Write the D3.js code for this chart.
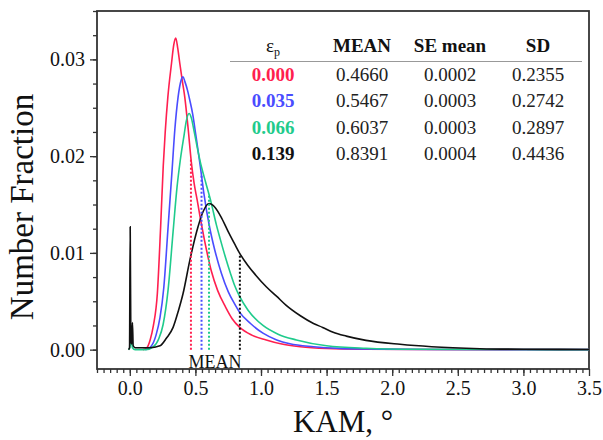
<!DOCTYPE html>
<html>
<head>
<meta charset="utf-8">
<script src="https://cdn.jsdelivr.net/npm/d3@7"></script>
<style>
body { margin: 0; background: #fff; }
</style>
</head>
<body>
<svg id="chart" width="603" height="440"></svg>
<script>
// strain levels and summary statistics (table)
const strains = ["0.000", "0.035", "0.066", "0.139"];
const means = [0.4660, 0.5467, 0.6037, 0.8391];
const seMeans = ["0.0002", "0.0003", "0.0003", "0.0004"];
const sds = ["0.2355", "0.2742", "0.2897", "0.4436"];
const colors = ["#ff1f4f", "#4a4cff", "#1fcb8c", "#111111"];

// KAM distributions, [KAM (deg), number fraction]
const red = [[0.10,0],[0.13,0.0002],[0.155,0.001],[0.18,0.0025],[0.21,0.0058],[0.235,0.0127],[0.255,0.019],[0.27,0.0225],[0.29,0.0261],[0.318,0.0296],[0.335,0.0315],[0.35,0.0322],[0.365,0.0312],[0.381,0.0296],[0.40,0.0278],[0.419,0.0261],[0.445,0.0228],[0.468,0.0195],[0.49,0.0172],[0.513,0.0155],[0.54,0.0134],[0.568,0.0114],[0.622,0.0081],[0.67,0.0061],[0.73,0.0044],[0.78,0.0032],[0.838,0.0023],[0.93,0.0015],[1.04,0.001],[1.15,0.0006],[1.3,0.0003],[1.5,0.00012],[1.8,0.00004],[2.2,0.00001],[3.5,0]];
const blue = [[0.12,0],[0.16,0.0003],[0.20,0.0015],[0.23,0.0033],[0.259,0.0064],[0.292,0.0127],[0.322,0.0185],[0.343,0.0227],[0.368,0.0261],[0.39,0.0278],[0.406,0.0282],[0.42,0.0277],[0.44,0.0268],[0.457,0.0258],[0.48,0.0243],[0.503,0.0222],[0.538,0.0189],[0.564,0.0162],[0.609,0.0126],[0.635,0.011],[0.698,0.0079],[0.75,0.006],[0.80,0.0047],[0.835,0.0039],[0.92,0.0027],[1.015,0.0017],[1.12,0.001],[1.22,0.0006],[1.4,0.0003],[1.6,0.00013],[1.9,0.00005],[2.3,0.00001],[3.5,0]];
const green = [[-0.01,0],[0.0,0.0002],[0.012,0.0012],[0.02,0.0002],[0.04,0],[0.12,0],[0.18,0.0003],[0.22,0.0011],[0.254,0.0026],[0.292,0.0062],[0.33,0.0122],[0.36,0.0168],[0.385,0.0196],[0.414,0.0222],[0.43,0.0236],[0.452,0.0244],[0.47,0.0239],[0.487,0.0228],[0.52,0.0205],[0.546,0.0189],[0.58,0.0172],[0.62,0.0152],[0.66,0.0129],[0.69,0.0114],[0.73,0.0095],[0.767,0.0079],[0.80,0.0066],[0.833,0.0056],[0.90,0.0041],[1.015,0.0025],[1.13,0.0016],[1.27,0.001],[1.5,0.0004],[1.8,0.00015],[2.2,0.00004],[2.8,0.00001],[3.5,0]];
const black = [[-0.01,0],[-0.002,0.0002],[0.003,0.0127],[0.008,0.0008],[0.015,0.0006],[0.02,0.0028],[0.026,0.0004],[0.04,0.0002],[0.15,0.0002],[0.23,0.0004],[0.28,0.0012],[0.33,0.0023],[0.37,0.004],[0.406,0.0058],[0.457,0.0092],[0.52,0.0127],[0.56,0.0143],[0.604,0.0151],[0.65,0.0147],[0.70,0.0136],[0.75,0.0122],[0.80,0.0109],[0.84,0.0099],[0.90,0.0087],[0.96,0.0077],[1.04,0.0065],[1.12,0.0055],[1.19,0.0046],[1.30,0.0035],[1.40,0.0027],[1.47,0.0023],[1.55,0.0018],[1.65,0.0014],[1.8,0.00096],[2.06,0.00055],[2.3,0.0003],[2.67,0.0001],[3.0,0.00004],[3.5,0.00002]];
const series = [red, blue, green, black];

const xMajor = d3.range(0, 3.51, 0.5);
const yMajor = [0, 0.01, 0.02, 0.03];

const width = 603;
const height = 440;
const margin = {top: 11, right: 14, bottom: 71, left: 97};
const serif = "'Liberation Serif', 'Times New Roman', Times, serif";

const svg = d3.select("#chart");

const x = d3.scaleLinear()
    .domain([-0.25, 3.5])
    .range([margin.left, width - margin.right]);
const y = d3.scaleLinear()
    .domain([-0.002, 0.035])
    .range([height - margin.bottom, margin.top]);

// minor ticks first, then major ticks with labels
svg.append("g")
    .attr("transform", `translate(0, ${height - margin.bottom})`)
    .call(d3.axisBottom(x).tickValues(d3.range(-0.25, 3.5, 0.05)).tickSize(4).tickFormat("").tickSizeOuter(0));
svg.append("g")
    .attr("transform", `translate(0, ${height - margin.bottom})`)
    .call(d3.axisBottom(x).tickValues(xMajor).tickSize(7).tickPadding(5).tickFormat(d3.format(".1f")).tickSizeOuter(0));

svg.append("g")
    .attr("transform", `translate(${margin.left}, 0)`)
    .call(d3.axisLeft(y).tickValues(d3.range(0, 0.0351, 0.0025)).tickSize(4).tickFormat("").tickSizeOuter(0));
svg.append("g")
    .attr("transform", `translate(${margin.left}, 0)`)
    .call(d3.axisLeft(y).tickValues(yMajor).tickSize(7).tickPadding(5).tickFormat(d3.format(".2f")).tickSizeOuter(0));

svg.selectAll(".domain").remove();
svg.selectAll(".tick line").attr("stroke", "#333").attr("stroke-width", 1.3);
svg.selectAll(".tick text").style("font-size", "20px").attr("fill", "#111");

// frame
svg.append("rect")
    .attr("x", margin.left)
    .attr("y", margin.top)
    .attr("width", width - margin.left - margin.right)
    .attr("height", height - margin.top - margin.bottom)
    .attr("fill", "none")
    .attr("stroke", "#333")
    .attr("stroke-width", 1.8);

// axis titles
svg.append("text")
    .attr("x", (margin.left + width - margin.right) / 2)
    .attr("y", 432)
    .attr("text-anchor", "middle")
    .style("font-size", "31px")
    .text("KAM, °");
svg.append("text")
    .attr("transform", `translate(33, 207) rotate(-90)`)
    .attr("text-anchor", "middle")
    .style("font-size", "33px")
    .text("Number Fraction");

// curves
const line = d3.line()
    .x(d => x(d[0]))
    .y(d => y(d[1]))
    .curve(d3.curveMonotoneX);

svg.append("g")
    .selectAll("path")
    .data(series)
    .join("path")
        .attr("d", line)
        .attr("fill", "none")
        .attr("stroke", (d, i) => colors[i])
        .attr("stroke-width", 1.6);

// mean markers: dotted lines from zero up to the curve
function valueAt(s, v) {
    const i = d3.bisector(d => d[0]).left(s, v);
    const a = s[i - 1], b = s[i];
    return a[1] + (b[1] - a[1]) * (v - a[0]) / (b[0] - a[0]);
}
svg.append("g")
    .selectAll("line")
    .data(means)
    .join("line")
        .attr("x1", d => x(d))
        .attr("x2", d => x(d))
        .attr("y1", y(0))
        .attr("y2", (d, i) => y(valueAt(series[i], d)))
        .attr("stroke", (d, i) => colors[i])
        .attr("stroke-width", 2)
        .attr("stroke-dasharray", "2,2");

svg.append("text")
    .attr("x", x(0.65))
    .attr("y", 368)
    .attr("text-anchor", "middle")
    .style("font-size", "18px")
    .attr("fill", "#222")
    .text("MEAN");

// summary table
const cols = [273, 362, 450, 538];
const header = svg.append("g").style("font-size", "19px");
const eps = header.append("text")
    .attr("x", cols[0])
    .attr("y", 52)
    .attr("text-anchor", "middle");
eps.append("tspan").text("ε");
eps.append("tspan").attr("dy", 4).style("font-size", "12px").text("p");
["MEAN", "SE mean", "SD"].forEach((h, i) => {
    header.append("text")
        .attr("x", cols[i + 1])
        .attr("y", 52)
        .attr("text-anchor", "middle")
        .attr("font-weight", "bold")
        .text(h);
});
svg.append("line")
    .attr("x1", 230).attr("x2", 582)
    .attr("y1", 61.5).attr("y2", 61.5)
    .attr("stroke", "#999")
    .attr("stroke-width", 1.2);

const rows = svg.append("g").style("font-size", "19px");
strains.forEach((s, i) => {
    const yy = 81 + i * 26.3;
    rows.append("text")
        .attr("x", cols[0]).attr("y", yy)
        .attr("text-anchor", "middle")
        .attr("font-weight", "bold")
        .style("fill", colors[i])
        .text(s);
    [means[i].toFixed(4), seMeans[i], sds[i]].forEach((v, j) => {
        rows.append("text")
            .attr("x", cols[j + 1]).attr("y", yy)
            .attr("text-anchor", "middle")
            .style("fill", "#222")
            .text(v);
    });
});

// one serif face for every label
svg.selectAll("text").style("font-family", serif);
svg.selectAll("text:not([style*='fill'])").style("fill", "#111");
</script>
</body>
</html>
